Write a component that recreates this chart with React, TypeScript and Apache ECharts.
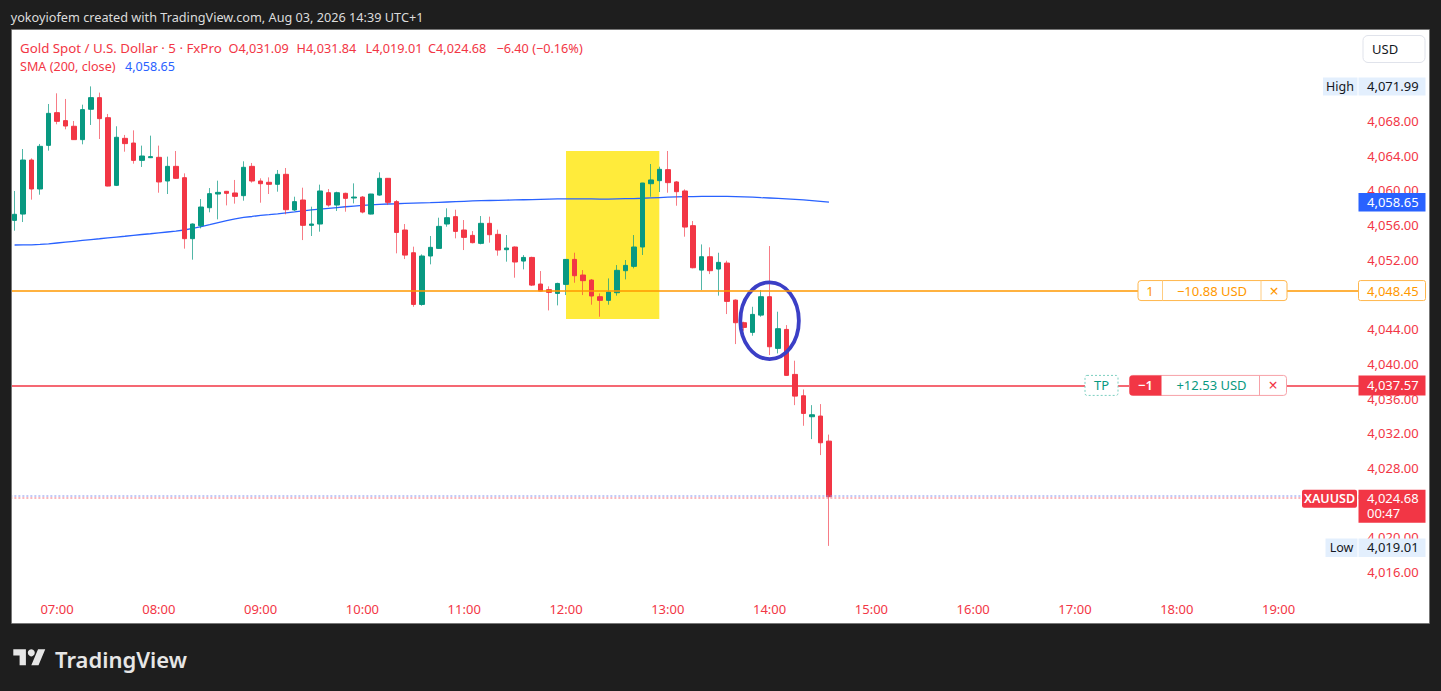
import React, { useEffect, useRef } from "react";
import * as echarts from "echarts";

// ---------- data (5-minute XAUUSD candles, 06:35 .. 14:35) ----------
const opens = [
  4056.54, 4057.27, 4063.5, 4060.16, 4065.19, 4068.96, 4068.04, 4067.39, 4065.85, 4069.35,
  4070.69, 4068.38, 4060.58, 4066.0, 4065.46, 4063.46, 4063.77, 4063.81, 4061.08, 4062.77,
  4061.46, 4054.43, 4055.93, 4058.0, 4059.58, 4059.89, 4059.7, 4059.39, 4062.77, 4061.08,
  4060.93, 4060.7, 4061.85, 4057.74, 4058.89, 4055.97, 4056.12, 4059.73, 4058.31, 4059.66,
  4059.12, 4059.23, 4057.27, 4059.46, 4061.39, 4058.7, 4055.43, 4052.81, 4046.85, 4052.43,
  4053.31, 4056.12, 4056.97, 4055.43, 4054.81, 4053.89, 4056.2, 4054.93, 4053.16, 4053.47,
  4051.85, 4052.27, 4049.2, 4048.55, 4048.12, 4049.16, 4052.04, 4050.24, 4049.66, 4047.74,
  4047.32, 4048.2, 4050.74, 4051.24, 4053.47, 4060.77, 4061.12, 4062.39, 4060.97, 4059.93,
  4055.93, 4050.81, 4052.35, 4050.93, 4051.62, 4047.35, 4044.74, 4043.63, 4045.62, 4047.74,
  4041.78, 4043.97, 4038.78, 4036.32, 4033.9, 4033.98, 4031.09,
];
const highs = [
  4059.93, 4064.77, 4063.69, 4065.35, 4069.96, 4071.19, 4070.54, 4068.0, 4069.88, 4071.99,
  4071.27, 4068.81, 4067.39, 4066.39, 4066.92, 4065.16, 4066.31, 4065.16, 4063.89, 4064.54,
  4061.96, 4056.2, 4059.0, 4060.27, 4061.12, 4059.93, 4061.2, 4063.35, 4063.16, 4061.39,
  4061.5, 4062.35, 4062.58, 4059.27, 4060.31, 4058.12, 4060.66, 4060.16, 4059.85, 4059.73,
  4060.81, 4059.35, 4059.6, 4062.08, 4061.42, 4058.89, 4056.12, 4053.51, 4052.62, 4054.74,
  4056.85, 4057.93, 4057.77, 4056.58, 4055.31, 4057.04, 4056.97, 4055.47, 4054.85, 4053.54,
  4052.54, 4052.35, 4050.7, 4048.93, 4049.35, 4052.08, 4052.81, 4050.81, 4049.78, 4048.12,
  4049.85, 4051.39, 4051.97, 4054.85, 4060.86, 4063.04, 4062.73, 4064.54, 4061.08, 4060.12,
  4056.47, 4053.77, 4053.43, 4052.81, 4051.89, 4047.43, 4044.86, 4046.58, 4048.51, 4053.58,
  4046.01, 4044.47, 4040.36, 4037.05, 4035.24, 4035.36, 4031.84,
];
const lows = [
  4055.35, 4056.35, 4058.93, 4059.5, 4064.58, 4067.62, 4067.04, 4065.81, 4065.31, 4067.54,
  4065.92, 4060.47, 4060.5, 4064.46, 4063.08, 4062.7, 4063.73, 4059.73, 4059.58, 4061.31,
  4053.28, 4052.01, 4055.62, 4057.47, 4056.66, 4058.27, 4058.47, 4058.81, 4060.89, 4058.58,
  4059.58, 4059.85, 4057.24, 4057.62, 4054.27, 4054.74, 4055.24, 4058.12, 4057.62, 4057.54,
  4058.5, 4057.35, 4057.23, 4059.39, 4058.31, 4052.74, 4052.08, 4046.58, 4046.7, 4051.47,
  4053.28, 4055.81, 4054.47, 4053.12, 4053.89, 4053.78, 4053.97, 4052.47, 4051.78, 4049.93,
  4050.89, 4048.97, 4048.35, 4046.16, 4046.74, 4047.93, 4049.35, 4047.93, 4046.82, 4045.43,
  4046.82, 4047.86, 4049.74, 4051.01, 4052.55, 4059.27, 4059.81, 4059.73, 4058.23, 4054.66,
  4051.01, 4048.51, 4050.35, 4047.86, 4045.74, 4042.28, 4043.82, 4043.24, 4045.43, 4041.01,
  4041.2, 4038.63, 4035.24, 4032.86, 4031.32, 4029.48, 4019.01,
];
const closes = [
  4057.24, 4063.5, 4060.16, 4065.08, 4068.88, 4067.96, 4067.42, 4065.85, 4069.31, 4070.69,
  4068.27, 4060.5, 4066.12, 4065.39, 4063.46, 4063.96, 4063.89, 4060.97, 4062.77, 4061.39,
  4054.43, 4056.12, 4058.08, 4059.62, 4059.77, 4059.66, 4059.31, 4062.66, 4061.08, 4060.77,
  4060.7, 4061.85, 4057.77, 4058.7, 4055.97, 4056.12, 4059.93, 4058.31, 4059.73, 4059.08,
  4059.23, 4057.5, 4059.58, 4061.39, 4058.62, 4055.15, 4052.54, 4046.85, 4052.43, 4053.43,
  4055.85, 4056.85, 4055.27, 4054.58, 4053.97, 4056.2, 4054.89, 4053.12, 4053.35, 4051.74,
  4052.27, 4049.08, 4048.39, 4048.24, 4049.27, 4052.04, 4050.16, 4049.59, 4047.82, 4047.32,
  4048.28, 4050.78, 4051.35, 4053.47, 4060.85, 4061.2, 4062.43, 4060.89, 4059.85, 4055.77,
  4051.08, 4052.35, 4050.74, 4051.7, 4047.2, 4044.74, 4044.2, 4045.7, 4047.74, 4041.97,
  4044.05, 4038.67, 4036.28, 4034.28, 4034.13, 4030.9, 4024.68,
];
const sma200 = [
  4053.7, 4053.71, 4053.72, 4053.77, 4053.83, 4053.93, 4054.03, 4054.13, 4054.23, 4054.33,
  4054.42, 4054.52, 4054.62, 4054.71, 4054.81, 4054.91, 4055.0, 4055.1, 4055.2, 4055.3,
  4055.43, 4055.63, 4055.83, 4056.05, 4056.28, 4056.5, 4056.72, 4056.88, 4056.99, 4057.12,
  4057.2, 4057.29, 4057.4, 4057.51, 4057.63, 4057.74, 4057.84, 4057.93, 4058.02, 4058.11,
  4058.19, 4058.26, 4058.33, 4058.39, 4058.43, 4058.46, 4058.5, 4058.53, 4058.56, 4058.58,
  4058.62, 4058.66, 4058.7, 4058.74, 4058.78, 4058.81, 4058.83, 4058.85, 4058.88, 4058.9,
  4058.92, 4058.94, 4058.97, 4058.99, 4059.01, 4059.02, 4059.03, 4059.03, 4059.01, 4058.99,
  4059.0, 4059.02, 4059.04, 4059.06, 4059.09, 4059.13, 4059.17, 4059.21, 4059.25, 4059.28,
  4059.29, 4059.3, 4059.31, 4059.31, 4059.3, 4059.28, 4059.25, 4059.21, 4059.16, 4059.12,
  4059.07, 4059.02, 4058.97, 4058.9, 4058.82, 4058.74, 4058.65,
];

// time categories (5-minute bars) from 06:35 to 19:45
const FIRST_BAR_MIN = 6 * 60 + 35;
const BAR_COUNT_ON_AXIS = 159;
const categories: string[] = [];
for (let i = 0; i < BAR_COUNT_ON_AXIS; i++) {
  const m = FIRST_BAR_MIN + i * 5;
  categories.push(String(Math.floor(m / 60)).padStart(2, "0") + ":" + String(m % 60).padStart(2, "0"));
}

// price scale
const Y_MIN = 4016;
const Y_MAX = 4076;
const Y_STEP = 4;
// tick labels hidden behind the price-scale badges
const HIDDEN_TICKS = [4076, 4072, 4048, 4024];

// levels
const ENTRY_PRICE = 4048.45;
const TP_PRICE = 4037.57;
const LAST_PRICE = 4024.68;
const SMA_LAST = 4058.65;
const DAY_HIGH = 4071.99;
const DAY_LOW = 4019.01;

// annotations
const zone = { from: "12:00", to: "12:55", top: 4064.54, bottom: 4045.16 };
const ring = { at: "14:00", price: 4044.97, halfBars: 3.45, halfPrice: 4.42 };

const legendLine1 = [
  { text: "Gold Spot / U.S. Dollar · 5 · FxPro", x: 20, size: 13.3 },
  { text: "O4,031.09", x: 228.5, size: 12.7 },
  { text: "H4,031.84", x: 296.6, size: 12.7 },
  { text: "L4,019.01", x: 365.5, size: 12.7 },
  { text: "C4,024.68", x: 428, size: 12.7 },
  { text: "−6.40 (−0.16%)", x: 496.4, size: 12.7 },
];

const TV_PATH = "M14 22H7V11H0V4h14v18zM28 22h-8l7.5-18h8L28 22z";
echarts.graphic.registerShape("tvlogo", echarts.graphic.extendPath(TV_PATH, {}));

const GREEN = "#089981";
const RED = "#f23645";
const FONT = '"Noto Sans", "DejaVu Sans", sans-serif';
const DARK = "#1e1e1e";

const fmt = (v: number) =>
  v.toLocaleString("en-US", { minimumFractionDigits: 2, maximumFractionDigits: 2 });

function txt(text: string, x: number, y: number, fill: string, size = 13, align = "left", weight: any = "normal", z = 60) {
  return {
    type: "text",
    z,
    silent: true,
    x,
    y,
    style: { text, fill, fontSize: size, fontFamily: FONT, fontWeight: weight, align, verticalAlign: "middle" },
  };
}
function rect(x: number, y: number, w: number, h: number, fill: string, stroke?: string, r: any = 0, z = 59, dash?: number[]) {
  return {
    type: "rect",
    z,
    silent: true,
    shape: { x, y, width: w, height: h, r },
    style: { fill, stroke: stroke || null, lineWidth: stroke ? 1 : 0, lineDash: dash || null },
  };
}
function vline(x: number, y1: number, y2: number, stroke: string, z = 61) {
  return { type: "line", z, silent: true, shape: { x1: x, y1, x2: x, y2 }, style: { stroke, lineWidth: 1 } };
}
function hline(x1: number, x2: number, y: number, stroke: string, width: number, dash?: number[], z = 45) {
  return {
    type: "line",
    z,
    silent: true,
    shape: { x1, y1: y, x2, y2: y },
    style: { stroke, lineWidth: width, lineDash: dash || null },
  };
}

export default function App() {
  const ref = useRef<HTMLDivElement>(null);

  useEffect(() => {
    if (!ref.current) return;
    const chart = echarts.init(ref.current, null, { renderer: "svg" });

    const candleFull = opens.map((o, i) => [o, closes[i], lows[i], highs[i]]);
    const candleBody = opens.map((o, i) => [o, closes[i], Math.min(o, closes[i]), Math.max(o, closes[i])]);
    const empty = categories.map(() => null);

    chart.setOption({
      animation: false,
      backgroundColor: "#ffffff",
      grid: { left: 10.36, right: 81.84, top: 51.6, bottom: 119, containLabel: false },
      xAxis: {
        type: "category",
        data: categories,
        boundaryGap: true,
        axisLine: { show: false },
        axisTick: { show: false },
        splitLine: { show: false },
        axisLabel: {
          interval: (_i: number, v: string) => v.endsWith(":00"),
          color: RED,
          fontSize: 13,
          fontFamily: FONT,
          margin: 30.5,
        },
      },
      yAxis: {
        type: "value",
        position: "right",
        min: Y_MIN,
        max: Y_MAX,
        interval: Y_STEP,
        scale: true,
        axisLine: { show: false },
        axisTick: { show: false },
        splitLine: { show: false },
        axisLabel: {
          color: RED,
          fontSize: 13,
          fontFamily: FONT,
          margin: 8,
          formatter: (v: number) => (HIDDEN_TICKS.some((h) => Math.abs(h - v) < 1e-6) ? "" : fmt(v)),
        },
      },
      series: [
        {
          type: "line",
          data: empty,
          z: 1,
          silent: true,
          markArea: {
            silent: true,
            itemStyle: { color: "#ffeb3b", opacity: 1 },
            data: [[{ xAxis: zone.from, yAxis: zone.top }, { xAxis: zone.to, yAxis: zone.bottom }]],
          },
        },
        {
          name: "SMA",
          type: "line",
          data: sma200,
          z: 2,
          symbol: "none",
          silent: true,
          lineStyle: { color: "#2962ff", width: 1.3 },
        },
        {
          type: "candlestick",
          data: candleFull,
          z: 3,
          barWidth: 1,
          silent: true,
          itemStyle: {
            color: "rgba(8,153,129,0.7)",
            color0: "rgba(242,54,69,0.65)",
            borderColor: "rgba(8,153,129,0.7)",
            borderColor0: "rgba(242,54,69,0.65)",
            borderWidth: 1,
          },
        },
        {
          type: "candlestick",
          data: candleBody,
          z: 4,
          barWidth: 5,
          silent: true,
          itemStyle: { color: GREEN, color0: RED, borderColor: GREEN, borderColor0: RED, borderWidth: 1 },
        },
      ],
    });

    const yPx = (v: number) => chart.convertToPixel({ yAxisIndex: 0 }, v) as number;
    const xPx = (c: string) => chart.convertToPixel({ xAxisIndex: 0 }, c) as number;
    const barW = xPx(categories[1]) - xPx(categories[0]);
    const plotLeft = xPx(categories[0]) - barW / 2;
    const plotRight = xPx(categories[categories.length - 1]) + barW / 2;

    const g: any[] = [];
    // level lines
    const ye = yPx(ENTRY_PRICE);
    const yt = yPx(TP_PRICE);
    const yl = yPx(LAST_PRICE);
    g.push(hline(plotLeft, plotRight, Math.round(ye), "#ff9800", 1.3));
    g.push(hline(plotLeft, plotRight, Math.round(yt) + 1, "#f23645", 1.3));
    g.push(hline(plotLeft, plotRight, Math.round(yl) - 1, "#8593ee", 1, [2, 2]));
    g.push(hline(plotLeft, plotRight, Math.round(yl) + 1, "#f5707b", 1, [2, 2]));

    // dark frame
    g.push(rect(0, 0, 1441, 30, DARK, undefined, 0, 100));
    g.push(rect(0, 623, 1441, 68, DARK, undefined, 0, 100));
    g.push(rect(0, 0, 12, 691, DARK, undefined, 0, 100));
    g.push(rect(1429, 0, 12, 691, DARK, undefined, 0, 100));
    g.push({
      type: "rect",
      z: 101,
      silent: true,
      shape: { x: 11.5, y: 29.5, width: 1418, height: 594 },
      style: { fill: null, stroke: "#777777", lineWidth: 1 },
    });
    g.push(txt("yokoyiofem created with TradingView.com, Aug 03, 2026 14:39 UTC+1", 10.7, 16.5, "#dcdcdc", 12.7, "left", "normal", 101));
    // logo
    g.push({ type: "tvlogo", z: 101, silent: true, x: 13.3, y: 645.8, scaleX: 0.9, scaleY: 0.88, style: { fill: "#e6e6e6" } });
    g.push({ type: "circle", z: 101, silent: true, shape: { cx: 13.3 + 20 * 0.9, cy: 645.8 + 8 * 0.88, r: 3.5 }, style: { fill: "#e6e6e6" } });
    g.push(txt("TradingView", 55, 658.5, "#e6e6e6", 22, "left", 600, 101));

    // legend
    legendLine1.forEach((s) => g.push(txt(s.text, s.x, 47.5, RED, s.size, "left", "normal", 50)));
    g.push(txt("SMA (200, close)", 20, 66, RED, 12.6, "left", "normal", 50));
    g.push(txt(fmt(SMA_LAST), 125, 66, "#2962ff", 12.6, "left", "normal", 50));

    // ring annotation
    g.push({
      type: "ellipse",
      z: 40,
      silent: true,
      shape: {
        cx: xPx(ring.at),
        cy: yPx(ring.price),
        rx: ring.halfBars * barW,
        ry: yPx(ring.price - ring.halfPrice) - yPx(ring.price),
      },
      style: { fill: null, stroke: "#3b3fc6", lineWidth: 3.8 },
    });

    // USD button
    g.push(rect(1363, 35.5, 62, 27, "#ffffff", "#e0e3eb", 5, 58));
    g.push(txt("USD", 1372, 49, "#131722", 13));

    const VX = 1358.5;
    const VW = 67;
    // High
    const yh = yPx(DAY_HIGH);
    g.push(rect(1323, yh - 9, 34.5, 18, "#e3effd"));
    g.push(rect(VX, yh - 9, VW, 18, "#e3effd"));
    g.push(txt("High", 1340, yh, "#131722", 12.5, "center"));
    g.push(txt(fmt(DAY_HIGH), 1367, yh, "#131722", 13));
    // SMA value
    const ys = yPx(SMA_LAST);
    g.push(rect(VX, ys - 9, VW, 18.5, "#2962ff"));
    g.push(txt(fmt(SMA_LAST), 1367, ys, "#ffffff", 13));
    // entry
    g.push(rect(VX, ye - 10, VW, 20, "#ffffff", "#ffb74d", 2));
    g.push(txt(fmt(ENTRY_PRICE), 1367, ye, "#ff9800", 13));
    g.push(rect(1138, ye - 10, 149, 20, "#ffffff", "#ffb74d", 3));
    g.push(vline(1162.5, ye - 10, ye + 10, "#ffcc80"));
    g.push(vline(1261, ye - 10, ye + 10, "#ffcc80"));
    g.push(txt("1", 1150, ye, "#ff9800", 13, "center"));
    g.push(txt("−10.88 USD", 1212, ye, "#ff9800", 13, "center"));
    g.push(txt("×", 1274, ye, "#ff9800", 16, "center"));
    // TP
    g.push(rect(VX, yt - 9.5, VW, 20, RED));
    g.push(txt(fmt(TP_PRICE), 1367, yt + 0.5, "#ffffff", 13));
    g.push(rect(1085, yt - 9.5, 33, 20, "#ffffff", "#7ccfc0", 2, 59, [2, 2]));
    g.push(txt("TP", 1101.5, yt + 0.5, GREEN, 13, "center"));
    g.push(rect(1129.5, yt - 9.5, 157, 20, "#ffffff", "#f7a1a8", 3));
    g.push(rect(1129.5, yt - 9.5, 32, 20, RED, undefined, [3, 0, 0, 3], 60));
    g.push(vline(1259.5, yt - 9.5, yt + 10.5, "#f7a1a8"));
    g.push(txt("−1", 1145.5, yt + 0.5, "#ffffff", 13, "center", 600, 61));
    g.push(txt("+12.53 USD", 1211.5, yt + 0.5, GREEN, 13, "center"));
    g.push(txt("×", 1273, yt + 0.5, RED, 16, "center"));
    // last price
    g.push(rect(1302, yl - 7, 55, 18, RED, undefined, 2));
    g.push(txt("XAUUSD", 1329.5, yl + 2, "#ffffff", 12.5, "center", 600, 61));
    g.push(rect(VX, yl - 7, VW, 33, RED));
    g.push(txt(fmt(LAST_PRICE), 1367, yl + 1.5, "#ffffff", 13, "left", "normal", 61));
    g.push(txt("00:47", 1367, yl + 16.5, "#ffffff", 13, "left", "normal", 61));
    // Low
    const ylo = yPx(DAY_LOW);
    g.push(rect(1325.5, ylo - 7.5, 32, 18.5, "#e3effd"));
    g.push(rect(VX, ylo - 7.5, VW, 18.5, "#e3effd"));
    g.push(txt("Low", 1341.5, ylo + 1.5, "#131722", 12.5, "center"));
    g.push(txt(fmt(DAY_LOW), 1367, ylo + 1.5, "#131722", 13));

    chart.setOption({ graphic: { elements: g } });

    return () => chart.dispose();
  }, []);

  return <div ref={ref} style={{ position: "absolute", left: 0, top: 0, width: 1441, height: 691 }} />;
}
